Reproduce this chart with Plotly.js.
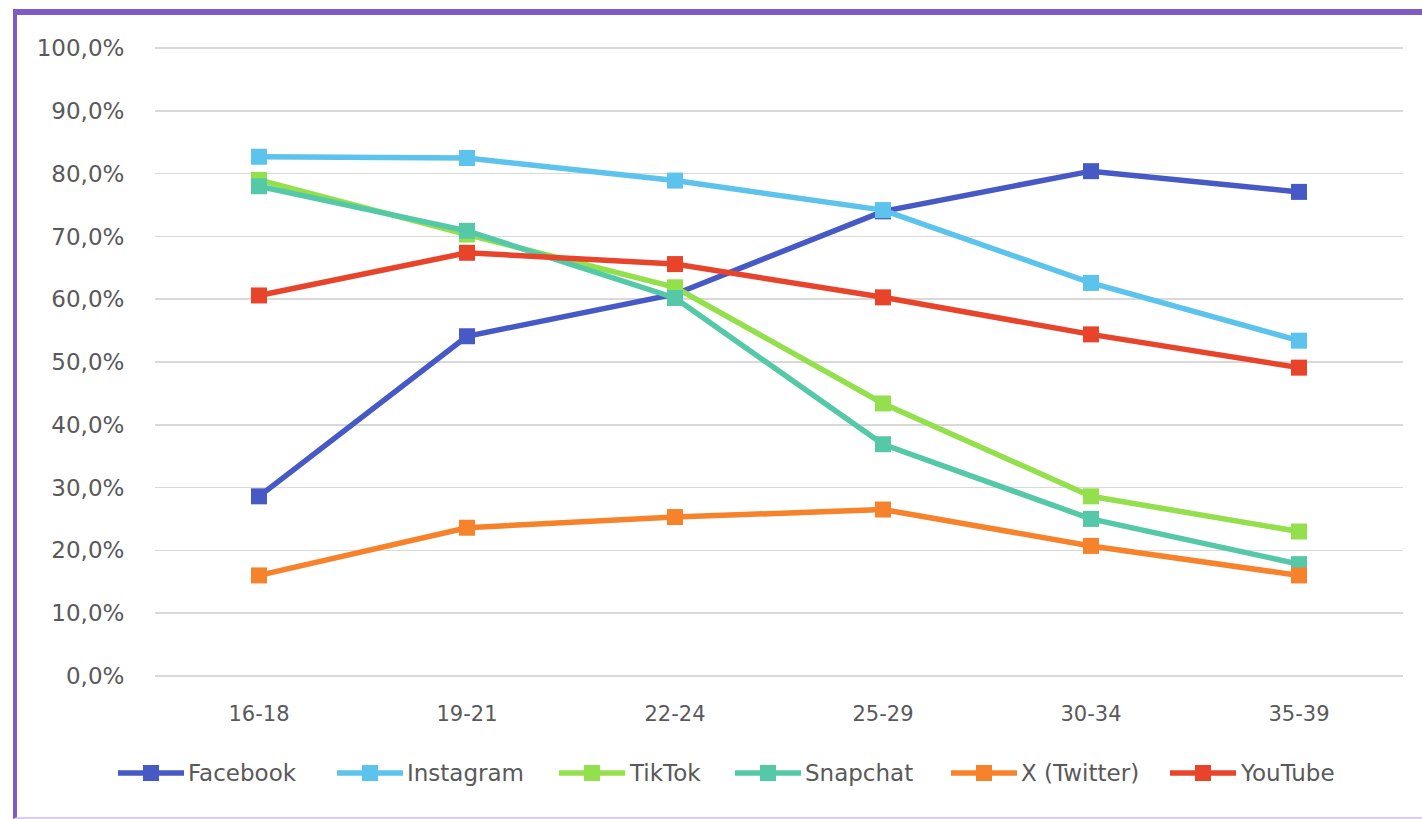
<!DOCTYPE html>
<html>
<head>
<meta charset="utf-8">
<script src="https://cdn.plot.ly/plotly-3.0.1.min.js"></script>
<style>
  html, body { margin: 0; padding: 0; background: #ffffff; overflow: hidden; }
  #frame {
    position: absolute; left: 13px; top: 9px; width: 1420px; height: 802px;
    border-left: 4px solid #7E5BC6; border-top: 6px solid #7E5BC6; border-bottom: 2px solid #DCCBF7;
    box-sizing: content-box;
  }
  #chart { position: absolute; left: 0; top: 0; width: 1422px; height: 819px; }
</style>
</head>
<body>
<div id="frame"></div>
<div id="chart"></div>
<script>
const categories = ['16-18', '19-21', '22-24', '25-29', '30-34', '35-39'];
const facebook  = [0.286, 0.541, 0.608, 0.740, 0.804, 0.771];
const instagram = [0.827, 0.825, 0.789, 0.742, 0.626, 0.534];
const tiktok    = [0.790, 0.703, 0.619, 0.434, 0.286, 0.230];
const snapchat  = [0.780, 0.709, 0.602, 0.369, 0.250, 0.178];
const xTwitter  = [0.160, 0.236, 0.253, 0.265, 0.207, 0.160];
const youtube   = [0.606, 0.674, 0.656, 0.603, 0.544, 0.491];
const seriesNames = ['Facebook', 'Instagram', 'TikTok', 'Snapchat', 'X (Twitter)', 'YouTube'];

const seriesValues = [facebook, instagram, tiktok, snapchat, xTwitter, youtube];
const colors = ['#4659C4', '#5CC3EC', '#93E04C', '#55C9A7', '#F6832B', '#E8442B'];

// plot-area geometry (pixels), used to place the legend in paper coordinates
const W = 1422, H = 819;
const M = { l: 155, r: 19, t: 45, b: 140 };
const plotW = W - M.l - M.r, plotH = H - M.t - M.b;
const px = v => (v - M.l) / plotW;
const py = v => (H - M.b - v) / plotH;

// legend layout: start pixel of each entry's symbol (symbol is 66 px long)
const legendStarts = [118, 337, 559, 735, 951, 1170];
const legendY = 773, symLen = 66, sq = 16;

const traces = seriesValues.map((vals, i) => ({
  type: 'scatter',
  mode: 'lines+markers',
  name: seriesNames[i],
  x: categories,
  y: vals,
  line: { color: colors[i], width: 5.5 },
  marker: { symbol: 'square', size: 16, color: colors[i] }
}));

const shapes = [];
const annotations = [];
seriesNames.forEach((name, i) => {
  const x0 = legendStarts[i];
  const mid = x0 + symLen / 2;
  shapes.push({
    type: 'line', xref: 'paper', yref: 'paper',
    x0: px(x0), x1: px(x0 + symLen), y0: py(legendY), y1: py(legendY),
    line: { color: colors[i], width: 5.5 }
  });
  shapes.push({
    type: 'rect', xref: 'paper', yref: 'paper',
    x0: px(mid - sq / 2), x1: px(mid + sq / 2), y0: py(legendY - sq / 2), y1: py(legendY + sq / 2),
    line: { width: 0 }, fillcolor: colors[i]
  });
  annotations.push({
    xref: 'paper', yref: 'paper',
    x: px(x0 + symLen + 2), y: py(legendY),
    xanchor: 'left', yanchor: 'middle',
    text: name, showarrow: false,
    font: { family: 'DejaVu Sans, sans-serif', size: 23, color: '#595959' }
  });
});

const layout = {
  width: W,
  height: H,
  margin: M,
  paper_bgcolor: 'rgba(0,0,0,0)',
  plot_bgcolor: 'rgba(0,0,0,0)',
  separators: ',.',
  showlegend: false,
  font: { family: 'DejaVu Sans, sans-serif', color: '#595959' },
  xaxis: {
    type: 'category',
    range: [-0.5, 5.5],
    showgrid: false,
    zeroline: false,
    showline: false,
    ticks: 'outside',
    ticklen: 16,
    tickcolor: 'rgba(0,0,0,0)',
    tickfont: { size: 21, color: '#595959' }
  },
  yaxis: {
    range: [-0.005, 1.005],
    tick0: 0,
    dtick: 0.1,
    tickformat: '.1%',
    showgrid: true,
    gridcolor: '#D9D9D9',
    gridwidth: 1.5,
    zeroline: false,
    showline: false,
    ticks: 'outside',
    ticklen: 25,
    tickcolor: 'rgba(0,0,0,0)',
    tickfont: { size: 23, color: '#595959' }
  },
  shapes: shapes,
  annotations: annotations
};

Plotly.newPlot('chart', traces, layout, { staticPlot: true, displayModeBar: false });
</script>
</body>
</html>
